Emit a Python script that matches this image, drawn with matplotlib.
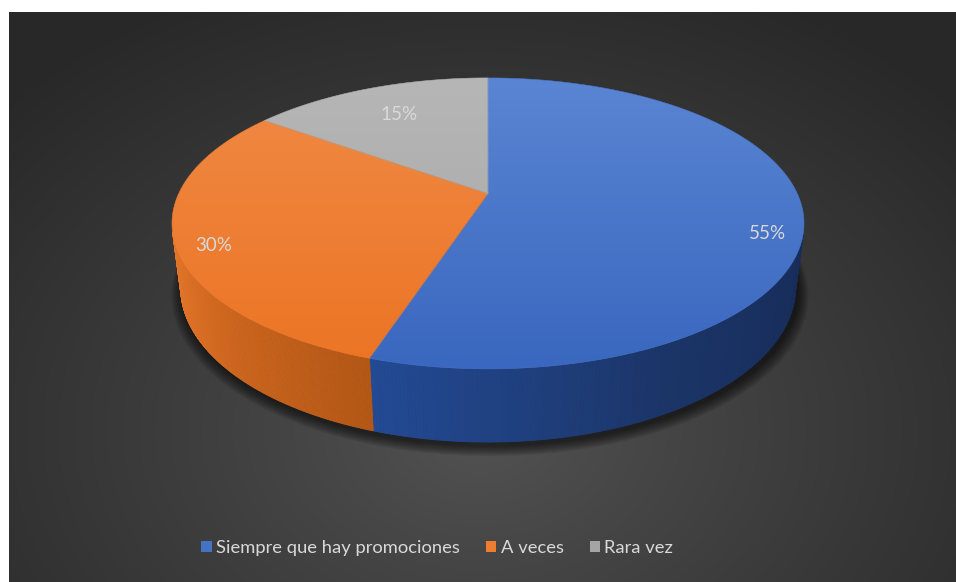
import numpy as np
import matplotlib.pyplot as plt
from matplotlib.patches import Polygon, Patch
from matplotlib.collections import PolyCollection
from matplotlib.colors import to_rgb

categories = ["Siempre que hay promociones", "A veces", "Rara vez"]
values = [55, 30, 15]
colors = ["#4472C4", "#ED7D31", "#A5A5A5"]

# top-face gradient (back -> front) and side-wall ramps (along the rim)
top_ramps = [("#5A85D3", "#3A67BF"), ("#F08A45", "#EC7424"), ("#B6B6B6", "#A6A6A6")]
wall_ramps = [["#234A94", "#1B3568", "#172C58"],
              ["#E4772B", "#CF671F", "#B45816"],
              ["#8A8A8A", "#7A7A7A", "#6A6A6A"]]

W, H = 956, 582
fig = plt.figure(figsize=(W / 100, H / 100), dpi=100)
fig.patch.set_facecolor("white")
ax = fig.add_axes([0, 0, 1, 1])

# dark panel with a soft radial glow
x0, y0 = 9, 12
yy, xx = np.mgrid[y0:H, x0:W].astype(float)
r = np.hypot((xx - 480) / 1.0, (yy - 430) / 0.75)
t = np.clip(r / 640, 0, 1) ** 0.9
inner, outer = np.array([0.325] * 3), np.array([0.16] * 3)
bg = inner + (outer - inner) * t[..., None]
ax.imshow(bg, extent=(x0, W, H, y0), zorder=0, interpolation="bilinear", aspect="auto")
ax.set_xlim(0, W)
ax.set_ylim(H, 0)
ax.axis("off")

# perspective camera for the 3-D disc
ALPHA = np.radians(29.5)
DIST = 4.386
FOC = 1321.0
CX, CY = 488.0, 257.0
THICK = 0.235


def project(theta, z, rad=1.0):
    xw = rad * np.cos(theta)
    yw = rad * np.sin(theta)
    depth = yw * np.cos(ALPHA) + DIST - z * np.sin(ALPHA)
    w = yw * np.sin(ALPHA) + z * np.cos(ALPHA)
    return CX + FOC * xw / depth, CY - FOC * w / depth


def ramp(cols, u):
    cols = np.array([to_rgb(c) for c in cols])
    pos = np.linspace(0, 1, len(cols))
    return np.array([np.interp(u, pos, cols[:, k]) for k in range(3)]).T


fracs = np.array(values, float) / np.sum(values)
bounds = np.radians(90 - 360 * np.concatenate([[0], np.cumsum(fracs)]))
delta = np.arcsin(1.0 / (DIST * np.cos(ALPHA)))

# soft shadow under the disc
full = np.linspace(0, 2 * np.pi, 400)
for k in range(10, 0, -1):
    sx, sy = project(full, 0.0, 1.0 + 0.0035 * k)
    ax.add_patch(Polygon(np.column_stack([sx + 2, sy + 3 + 0.3 * k]), closed=True,
                         facecolor="black", edgecolor="none", alpha=0.07, zorder=1))

# side walls (front part of the rim)
for i in range(len(values)):
    a0, a1 = bounds[i], bounds[i + 1]
    for shift in (-2 * np.pi, 0.0, 2 * np.pi):
        lo = max(a1, -np.pi + delta + shift)
        hi = min(a0, -delta + shift)
        if lo >= hi:
            continue
        th = np.linspace(lo, hi, 160)
        tx, ty = project(th, THICK)
        bx, by = project(th, 0.0)
        quads = [[(tx[j], ty[j]), (tx[j + 1], ty[j + 1]), (bx[j + 1], by[j + 1]), (bx[j], by[j])]
                 for j in range(len(th) - 1)]
        mid = (th[:-1] + th[1:]) / 2
        u = (mid - mid.min()) / max(mid.max() - mid.min(), 1e-6)
        fc = ramp(wall_ramps[i], u)
        ax.add_collection(PolyCollection(quads, facecolors=fc, edgecolors=fc,
                                         linewidths=0.6, zorder=2))

# top faces with a vertical gradient
ty_top = project(np.pi / 2, THICK)[1]
ty_bot = project(-np.pi / 2, THICK)[1]
cx0, cy0 = project(0.0, THICK, 0.0)
for i in range(len(values)):
    th = np.linspace(bounds[i], bounds[i + 1], 200)
    px, py = project(th, THICK)
    pts = np.column_stack([np.r_[cx0, px], np.r_[cy0, py]])
    poly = Polygon(pts, closed=True, facecolor="none", edgecolor="none", zorder=3)
    ax.add_patch(poly)
    g = np.linspace(0, 1, 256)
    grad = ramp(top_ramps[i], g)[:, None, :]
    im = ax.imshow(np.repeat(grad, 2, axis=1), extent=(CX - 340, CX + 340, ty_bot, ty_top),
                   zorder=3, aspect="auto", interpolation="bilinear")
    im.set_clip_path(poly)
    ax.add_patch(Polygon(pts, closed=True, facecolor="none",
                         edgecolor=ramp(top_ramps[i], np.array([0.5]))[0],
                         linewidth=0.4, zorder=3.1))
ax.set_xlim(0, W)
ax.set_ylim(H, 0)

# percentage labels
label_rad = [0.89, 0.88, 0.72]
label_dy = [20, 12, 0]
for i, v in enumerate(values):
    mid = (bounds[i] + bounds[i + 1]) / 2
    lx, ly = project(mid, THICK, label_rad[i])
    ax.text(lx, ly + label_dy[i], f"{v / np.sum(values) * 100:.0f}%", color="#D9D9D9",
            fontsize=13.5, family="Lato", ha="center", va="center", zorder=5)

# legend
handles = [Patch(facecolor=c, edgecolor="none") for c in colors]
leg = fig.legend(handles, categories, loc="center", bbox_to_anchor=(0.4575, 1 - 548 / H),
                 ncol=3, frameon=False, handlelength=0.55, handleheight=0.55,
                 handletextpad=0.25, columnspacing=1.42, prop={"family": "Lato", "size": 13.2})
for txt in leg.get_texts():
    txt.set_color("#D9D9D9")

fig.savefig("out.png", dpi=100, facecolor=fig.get_facecolor())
